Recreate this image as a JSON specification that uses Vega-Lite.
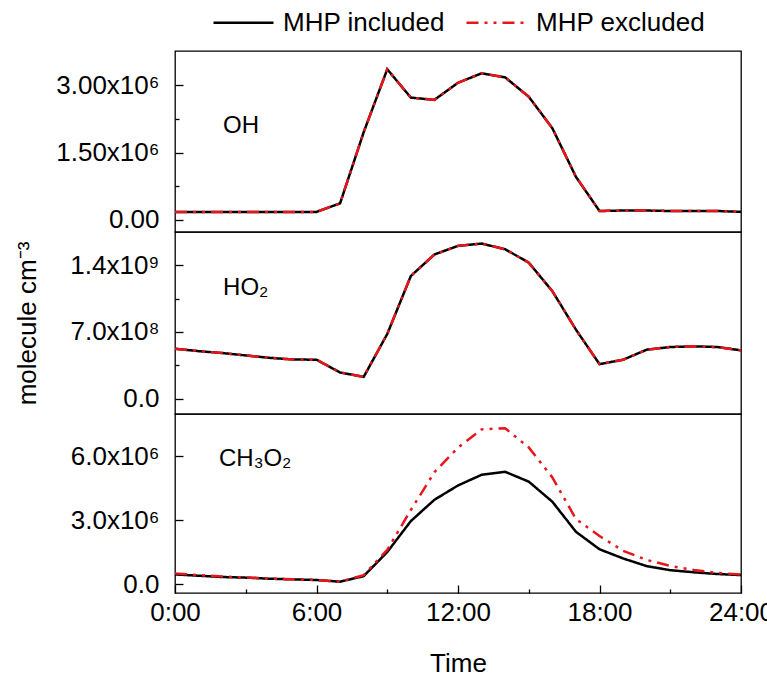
{
  "$schema": "https://vega.github.io/schema/vega-lite/v6.json",
  "background": "white",
  "padding": {"left": 13, "top": 6, "right": 0, "bottom": 0},
  "config": {
    "font": "Liberation Sans",
    "view": {"stroke": "black", "strokeWidth": 1.3},
    "concat": {"spacing": 0},
    "axis": {
      "labelFont": "Liberation Sans", "titleFont": "Liberation Sans",
      "labelFontSize": 26, "titleFontSize": 26, "labelColor": "black", "titleColor": "black",
      "titleFontWeight": "normal", "domain": false, "grid": false,
      "tickColor": "black", "tickWidth": 1.3
    },
    "legend": {"labelFont": "Liberation Sans"}
  },
  "data": {"values": [
    {"species":"OH","series":"MHP included","hour":0,"value":180000},
    {"species":"OH","series":"MHP included","hour":1,"value":180000},
    {"species":"OH","series":"MHP included","hour":2,"value":180000},
    {"species":"OH","series":"MHP included","hour":3,"value":180000},
    {"species":"OH","series":"MHP included","hour":4,"value":180000},
    {"species":"OH","series":"MHP included","hour":5,"value":180000},
    {"species":"OH","series":"MHP included","hour":6,"value":180000},
    {"species":"OH","series":"MHP included","hour":7,"value":370000},
    {"species":"OH","series":"MHP included","hour":8,"value":1950000},
    {"species":"OH","series":"MHP included","hour":9,"value":3350000},
    {"species":"OH","series":"MHP included","hour":10,"value":2720000},
    {"species":"OH","series":"MHP included","hour":11,"value":2670000},
    {"species":"OH","series":"MHP included","hour":12,"value":3050000},
    {"species":"OH","series":"MHP included","hour":13,"value":3260000},
    {"species":"OH","series":"MHP included","hour":14,"value":3170000},
    {"species":"OH","series":"MHP included","hour":15,"value":2740000},
    {"species":"OH","series":"MHP included","hour":16,"value":2040000},
    {"species":"OH","series":"MHP included","hour":17,"value":960000},
    {"species":"OH","series":"MHP included","hour":18,"value":200000},
    {"species":"OH","series":"MHP included","hour":19,"value":210000},
    {"species":"OH","series":"MHP included","hour":20,"value":210000},
    {"species":"OH","series":"MHP included","hour":21,"value":200000},
    {"species":"OH","series":"MHP included","hour":22,"value":200000},
    {"species":"OH","series":"MHP included","hour":23,"value":200000},
    {"species":"OH","series":"MHP included","hour":24,"value":180000},
    {"species":"OH","series":"MHP excluded","hour":0,"value":180000},
    {"species":"OH","series":"MHP excluded","hour":1,"value":180000},
    {"species":"OH","series":"MHP excluded","hour":2,"value":180000},
    {"species":"OH","series":"MHP excluded","hour":3,"value":180000},
    {"species":"OH","series":"MHP excluded","hour":4,"value":180000},
    {"species":"OH","series":"MHP excluded","hour":5,"value":180000},
    {"species":"OH","series":"MHP excluded","hour":6,"value":180000},
    {"species":"OH","series":"MHP excluded","hour":7,"value":370000},
    {"species":"OH","series":"MHP excluded","hour":8,"value":1950000},
    {"species":"OH","series":"MHP excluded","hour":9,"value":3350000},
    {"species":"OH","series":"MHP excluded","hour":10,"value":2720000},
    {"species":"OH","series":"MHP excluded","hour":11,"value":2670000},
    {"species":"OH","series":"MHP excluded","hour":12,"value":3050000},
    {"species":"OH","series":"MHP excluded","hour":13,"value":3260000},
    {"species":"OH","series":"MHP excluded","hour":14,"value":3170000},
    {"species":"OH","series":"MHP excluded","hour":15,"value":2740000},
    {"species":"OH","series":"MHP excluded","hour":16,"value":2040000},
    {"species":"OH","series":"MHP excluded","hour":17,"value":960000},
    {"species":"OH","series":"MHP excluded","hour":18,"value":200000},
    {"species":"OH","series":"MHP excluded","hour":19,"value":210000},
    {"species":"OH","series":"MHP excluded","hour":20,"value":210000},
    {"species":"OH","series":"MHP excluded","hour":21,"value":200000},
    {"species":"OH","series":"MHP excluded","hour":22,"value":200000},
    {"species":"OH","series":"MHP excluded","hour":23,"value":200000},
    {"species":"OH","series":"MHP excluded","hour":24,"value":180000},
    {"species":"HO2","series":"MHP included","hour":0,"value":525000000},
    {"species":"HO2","series":"MHP included","hour":1,"value":500000000},
    {"species":"HO2","series":"MHP included","hour":2,"value":480000000},
    {"species":"HO2","series":"MHP included","hour":3,"value":455000000},
    {"species":"HO2","series":"MHP included","hour":4,"value":430000000},
    {"species":"HO2","series":"MHP included","hour":5,"value":413000000},
    {"species":"HO2","series":"MHP included","hour":6,"value":410000000},
    {"species":"HO2","series":"MHP included","hour":7,"value":277000000},
    {"species":"HO2","series":"MHP included","hour":8,"value":231000000},
    {"species":"HO2","series":"MHP included","hour":9,"value":679000000},
    {"species":"HO2","series":"MHP included","hour":10,"value":1285000000},
    {"species":"HO2","series":"MHP included","hour":11,"value":1510000000},
    {"species":"HO2","series":"MHP included","hour":12,"value":1600000000},
    {"species":"HO2","series":"MHP included","hour":13,"value":1624000000},
    {"species":"HO2","series":"MHP included","hour":14,"value":1565000000},
    {"species":"HO2","series":"MHP included","hour":15,"value":1425000000},
    {"species":"HO2","series":"MHP included","hour":16,"value":1127000000},
    {"species":"HO2","series":"MHP included","hour":17,"value":725000000},
    {"species":"HO2","series":"MHP included","hour":18,"value":364000000},
    {"species":"HO2","series":"MHP included","hour":19,"value":410000000},
    {"species":"HO2","series":"MHP included","hour":20,"value":515000000},
    {"species":"HO2","series":"MHP included","hour":21,"value":543000000},
    {"species":"HO2","series":"MHP included","hour":22,"value":550000000},
    {"species":"HO2","series":"MHP included","hour":23,"value":543000000},
    {"species":"HO2","series":"MHP included","hour":24,"value":508000000},
    {"species":"HO2","series":"MHP excluded","hour":0,"value":525000000},
    {"species":"HO2","series":"MHP excluded","hour":1,"value":500000000},
    {"species":"HO2","series":"MHP excluded","hour":2,"value":480000000},
    {"species":"HO2","series":"MHP excluded","hour":3,"value":455000000},
    {"species":"HO2","series":"MHP excluded","hour":4,"value":430000000},
    {"species":"HO2","series":"MHP excluded","hour":5,"value":413000000},
    {"species":"HO2","series":"MHP excluded","hour":6,"value":410000000},
    {"species":"HO2","series":"MHP excluded","hour":7,"value":277000000},
    {"species":"HO2","series":"MHP excluded","hour":8,"value":231000000},
    {"species":"HO2","series":"MHP excluded","hour":9,"value":679000000},
    {"species":"HO2","series":"MHP excluded","hour":10,"value":1285000000},
    {"species":"HO2","series":"MHP excluded","hour":11,"value":1510000000},
    {"species":"HO2","series":"MHP excluded","hour":12,"value":1600000000},
    {"species":"HO2","series":"MHP excluded","hour":13,"value":1624000000},
    {"species":"HO2","series":"MHP excluded","hour":14,"value":1565000000},
    {"species":"HO2","series":"MHP excluded","hour":15,"value":1425000000},
    {"species":"HO2","series":"MHP excluded","hour":16,"value":1127000000},
    {"species":"HO2","series":"MHP excluded","hour":17,"value":725000000},
    {"species":"HO2","series":"MHP excluded","hour":18,"value":364000000},
    {"species":"HO2","series":"MHP excluded","hour":19,"value":410000000},
    {"species":"HO2","series":"MHP excluded","hour":20,"value":515000000},
    {"species":"HO2","series":"MHP excluded","hour":21,"value":543000000},
    {"species":"HO2","series":"MHP excluded","hour":22,"value":550000000},
    {"species":"HO2","series":"MHP excluded","hour":23,"value":543000000},
    {"species":"HO2","series":"MHP excluded","hour":24,"value":508000000},
    {"species":"CH3O2","series":"MHP included","hour":0,"value":450000},
    {"species":"CH3O2","series":"MHP included","hour":1,"value":390000},
    {"species":"CH3O2","series":"MHP included","hour":2,"value":330000},
    {"species":"CH3O2","series":"MHP included","hour":3,"value":300000},
    {"species":"CH3O2","series":"MHP included","hour":4,"value":250000},
    {"species":"CH3O2","series":"MHP included","hour":5,"value":220000},
    {"species":"CH3O2","series":"MHP included","hour":6,"value":190000},
    {"species":"CH3O2","series":"MHP included","hour":7,"value":110000},
    {"species":"CH3O2","series":"MHP included","hour":8,"value":370000},
    {"species":"CH3O2","series":"MHP included","hour":9,"value":1500000},
    {"species":"CH3O2","series":"MHP included","hour":10,"value":2950000},
    {"species":"CH3O2","series":"MHP included","hour":11,"value":3950000},
    {"species":"CH3O2","series":"MHP included","hour":12,"value":4620000},
    {"species":"CH3O2","series":"MHP included","hour":13,"value":5120000},
    {"species":"CH3O2","series":"MHP included","hour":14,"value":5260000},
    {"species":"CH3O2","series":"MHP included","hour":15,"value":4800000},
    {"species":"CH3O2","series":"MHP included","hour":16,"value":3860000},
    {"species":"CH3O2","series":"MHP included","hour":17,"value":2450000},
    {"species":"CH3O2","series":"MHP included","hour":18,"value":1630000},
    {"species":"CH3O2","series":"MHP included","hour":19,"value":1200000},
    {"species":"CH3O2","series":"MHP included","hour":20,"value":840000},
    {"species":"CH3O2","series":"MHP included","hour":21,"value":650000},
    {"species":"CH3O2","series":"MHP included","hour":22,"value":550000},
    {"species":"CH3O2","series":"MHP included","hour":23,"value":470000},
    {"species":"CH3O2","series":"MHP included","hour":24,"value":420000},
    {"species":"CH3O2","series":"MHP excluded","hour":0,"value":500000},
    {"species":"CH3O2","series":"MHP excluded","hour":1,"value":420000},
    {"species":"CH3O2","series":"MHP excluded","hour":2,"value":350000},
    {"species":"CH3O2","series":"MHP excluded","hour":3,"value":310000},
    {"species":"CH3O2","series":"MHP excluded","hour":4,"value":260000},
    {"species":"CH3O2","series":"MHP excluded","hour":5,"value":220000},
    {"species":"CH3O2","series":"MHP excluded","hour":6,"value":190000},
    {"species":"CH3O2","series":"MHP excluded","hour":7,"value":110000},
    {"species":"CH3O2","series":"MHP excluded","hour":8,"value":420000},
    {"species":"CH3O2","series":"MHP excluded","hour":9,"value":1600000},
    {"species":"CH3O2","series":"MHP excluded","hour":10,"value":3470000},
    {"species":"CH3O2","series":"MHP excluded","hour":11,"value":5240000},
    {"species":"CH3O2","series":"MHP excluded","hour":12,"value":6390000},
    {"species":"CH3O2","series":"MHP excluded","hour":13,"value":7250000},
    {"species":"CH3O2","series":"MHP excluded","hour":14,"value":7300000},
    {"species":"CH3O2","series":"MHP excluded","hour":15,"value":6400000},
    {"species":"CH3O2","series":"MHP excluded","hour":16,"value":5000000},
    {"species":"CH3O2","series":"MHP excluded","hour":17,"value":3050000},
    {"species":"CH3O2","series":"MHP excluded","hour":18,"value":2250000},
    {"species":"CH3O2","series":"MHP excluded","hour":19,"value":1560000},
    {"species":"CH3O2","series":"MHP excluded","hour":20,"value":1130000},
    {"species":"CH3O2","series":"MHP excluded","hour":21,"value":850000},
    {"species":"CH3O2","series":"MHP excluded","hour":22,"value":660000},
    {"species":"CH3O2","series":"MHP excluded","hour":23,"value":520000},
    {"species":"CH3O2","series":"MHP excluded","hour":24,"value":450000}
  ]},
  "spacing": 0,
  "bounds": "flush",
  "resolve": {"scale": {"color": "shared", "strokeDash": "shared"}, "legend": {"color": "shared", "strokeDash": "shared"}},
  "vconcat": [
    {
      "width": 566, "height": 181,
      "layer": [
        {
          "transform": [{"filter": "datum.species === 'OH'"}],
          "mark": {"type": "line", "strokeWidth": 2.5},
          "encoding": {
            "x": {"field": "hour", "type": "quantitative", "scale": {"domain": [0, 24], "nice": false, "zero": false}, "axis": null},
            "y": {"field": "value", "type": "quantitative", "scale": {"domain": [-267000, 3756000], "nice": false, "zero": false},
              "axis": {"title": null, "values": [0, 750000, 1500000, 2250000, 3000000],
                "labelExpr": "datum.value == 0 ? '0.00' : datum.value == 1500000 ? '1.50x10⁶' : datum.value == 3000000 ? '3.00x10⁶' : ''",
                "tickSize": {"condition": {"test": "datum.value % 1500000 != 0", "value": -4}, "value": -8},
                "labelPadding": 24, "minExtent": 125, "maxExtent": 125}},
            "color": {"field": "series", "type": "nominal", "sort": null, "scale": {"domain": ["MHP included", "MHP excluded"], "range": ["black", "#e8161b"]},
              "legend": {"title": null, "orient": "none", "legendX": 52, "legendY": -45, "direction": "horizontal", "labelFontSize": 26, "labelColor": "black", "symbolType": "M-2,0H2", "symbolSize": 900, "symbolStrokeWidth": 2.5, "labelOffset": 23, "columnPadding": 16, "labelLimit": 400}},
            "strokeDash": {"field": "series", "type": "nominal", "sort": null, "scale": {"domain": ["MHP included", "MHP excluded"], "range": [[1, 0], [12, 6, 3, 6, 3, 6]]},
              "legend": {"title": null, "orient": "none", "legendX": 52, "legendY": -45, "direction": "horizontal", "labelFontSize": 26, "labelColor": "black", "symbolType": "M-2,0H2", "symbolSize": 900, "symbolStrokeWidth": 2.5, "labelOffset": 23, "columnPadding": 16, "labelLimit": 400}}
          }
        },
        {
          "data": {"values": [{"label": "OH"}]},
          "mark": {"type": "text", "fontSize": 24, "font": "Liberation Sans", "color": "black", "align": "center", "baseline": "middle"},
          "encoding": {"x": {"datum": 2.8, "type": "quantitative"}, "y": {"datum": 2100000, "type": "quantitative"}, "text": {"field": "label"}}
        }
      ]
    },
    {
      "width": 566, "height": 182,
      "layer": [
        {
          "transform": [{"filter": "datum.species === 'HO2'"}],
          "mark": {"type": "line", "strokeWidth": 2.5},
          "encoding": {
            "x": {"field": "hour", "type": "quantitative", "scale": {"domain": [0, 24], "nice": false, "zero": false}, "axis": null},
            "y": {"field": "value", "type": "quantitative", "scale": {"domain": [-157000000, 1745000000], "nice": false, "zero": false},
              "axis": {"title": "molecule cm⁻³", "titlePadding": 10, "values": [0, 350000000, 700000000, 1050000000, 1400000000],
                "labelExpr": "datum.value == 0 ? '0.0' : datum.value == 700000000 ? '7.0x10⁸' : datum.value == 1400000000 ? '1.4x10⁹' : ''",
                "tickSize": {"condition": {"test": "datum.value % 700000000 != 0", "value": -4}, "value": -8},
                "labelPadding": 24, "minExtent": 125, "maxExtent": 125}},
            "color": {"field": "series", "type": "nominal", "sort": null, "scale": {"domain": ["MHP included", "MHP excluded"], "range": ["black", "#e8161b"]}},
            "strokeDash": {"field": "series", "type": "nominal", "sort": null, "scale": {"domain": ["MHP included", "MHP excluded"], "range": [[1, 0], [12, 6, 3, 6, 3, 6]]}}
          }
        },
        {
          "data": {"values": [{"label": "HO₂"}]},
          "mark": {"type": "text", "fontSize": 24, "font": "Liberation Sans", "color": "black", "align": "center", "baseline": "middle"},
          "encoding": {"x": {"datum": 3.0, "type": "quantitative"}, "y": {"datum": 1160000000, "type": "quantitative"}, "text": {"field": "label"}}
        }
      ]
    },
    {
      "width": 566, "height": 179,
      "layer": [
        {
          "transform": [{"filter": "datum.species === 'CH3O2'"}],
          "mark": {"type": "line", "strokeWidth": 2.5},
          "encoding": {
            "x": {"field": "hour", "type": "quantitative", "scale": {"domain": [0, 24], "nice": false, "zero": false},
              "axis": {"title": "Time", "titlePadding": 25, "values": [0, 3, 6, 9, 12, 15, 18, 21, 24],
                "labelExpr": "datum.value % 6 == 0 ? datum.value + ':00' : ''",
                "tickSize": {"condition": {"test": "datum.value % 6 != 0", "value": -4}, "value": -8},
                "labelPadding": 14, "labelFlush": false}},
            "y": {"field": "value", "type": "quantitative", "scale": {"domain": [-420000, 7970000], "nice": false, "zero": false},
              "axis": {"title": null, "values": [0, 1500000, 3000000, 4500000, 6000000, 7500000],
                "labelExpr": "datum.value == 0 ? '0.0' : datum.value == 3000000 ? '3.0x10⁶' : datum.value == 6000000 ? '6.0x10⁶' : ''",
                "tickSize": {"condition": {"test": "datum.value % 3000000 != 0", "value": -4}, "value": -8},
                "labelPadding": 24, "minExtent": 125, "maxExtent": 125}},
            "color": {"field": "series", "type": "nominal", "sort": null, "scale": {"domain": ["MHP included", "MHP excluded"], "range": ["black", "#e8161b"]}},
            "strokeDash": {"field": "series", "type": "nominal", "sort": null, "scale": {"domain": ["MHP included", "MHP excluded"], "range": [[1, 0], [12, 6, 3, 6, 3, 6]]}}
          }
        },
        {
          "data": {"values": [{"label": "CH₃O₂"}]},
          "mark": {"type": "text", "fontSize": 24, "font": "Liberation Sans", "color": "black", "align": "center", "baseline": "middle"},
          "encoding": {"x": {"datum": 3.4, "type": "quantitative"}, "y": {"datum": 5850000, "type": "quantitative"}, "text": {"field": "label"}}
        }
      ]
    }
  ]
}
